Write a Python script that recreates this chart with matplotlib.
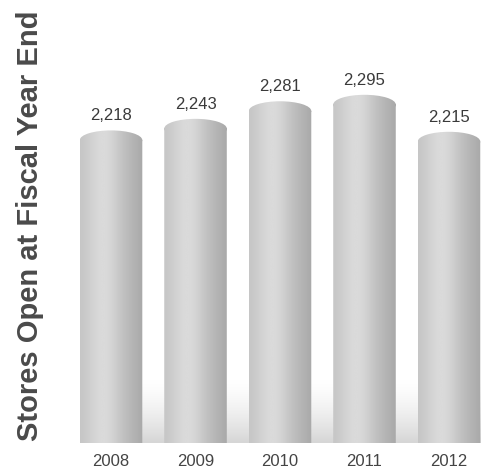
import matplotlib.pyplot as plt
import numpy as np
from matplotlib.patches import Ellipse, Rectangle
from matplotlib.path import Path
from matplotlib.patches import PathPatch

years = ['2008', '2009', '2010', '2011', '2012']
stores = [2218, 2243, 2281, 2295, 2215]
value_labels = ['2,218', '2,243', '2,281', '2,295', '2,215']

plt.rcParams['font.family'] = ['Liberation Sans', 'DejaVu Sans']

fig = plt.figure(figsize=(4.92, 4.71), dpi=100)
ax = fig.add_axes([60 / 492, 1 - 443 / 471, 432 / 492, 443 / 471])

y0 = 1542
bar_w = 0.74
dome = 21  # half height of the rounded cap, in store units

# horizontal shading for the cylinder look
u = np.linspace(0, 1, 200)
shade = 0.76 + 0.10 * np.exp(-((u - 0.38) / 0.28) ** 2) - 0.10 * u ** 3
grad = np.tile(shade, (2, 1))

# light floor band behind the bars near the baseline
floor = np.linspace(1, 0, 100)[:, None] * np.ones((1, 2))
floor_rgba = np.zeros((100, 2, 4))
floor_rgba[..., :3] = 0.82
floor_rgba[..., 3] = floor ** 1.5 * 0.9
ax.imshow(floor_rgba, extent=(-bar_w / 2, 4 + bar_w / 2, y0, y0 + 140),
          aspect='auto', origin='lower', zorder=1)

for i, v in enumerate(stores):
    left = i - bar_w / 2
    top = v - dome
    rect = Rectangle((left, y0), bar_w, top - y0)
    cap = Ellipse((i, top), bar_w, 2 * dome)
    rp, cp = rect.get_path(), cap.get_path()
    rcodes = rp.codes if rp.codes is not None else \
        [Path.MOVETO] + [Path.LINETO] * (len(rp.vertices) - 2) + [Path.CLOSEPOLY]
    verts = np.vstack([rect.get_patch_transform().transform(rp.vertices),
                       cap.get_patch_transform().transform(cp.vertices)])
    codes = np.concatenate([rcodes, cp.codes])
    clip = PathPatch(Path(verts, codes), facecolor='none', edgecolor='none',
                     transform=ax.transData)
    ax.add_patch(clip)
    im = ax.imshow(grad, extent=(left, left + bar_w, y0, v), aspect='auto',
                   cmap='gray', vmin=0, vmax=1, zorder=2)
    im.set_clip_path(clip)

    ax.annotate(value_labels[i], (i, v), xytext=(0, 5), textcoords='offset points',
                ha='center', va='bottom', fontsize=12, color='#3a3a3a')

ax.set_xlim(-0.604, 4.509)
ax.set_ylim(y0, 2500)
ax.set_xticks(range(len(years)))
ax.set_xticklabels(years, fontsize=12, color='#444444')
ax.tick_params(axis='x', length=0, pad=8)
ax.set_yticks([])
for s in ax.spines.values():
    s.set_visible(False)

fig.text(30 / 492, 1 - 226 / 471, 'Stores Open at Fiscal Year End', rotation=90,
         ha='center', va='center', fontsize=21, fontweight='bold', color='#4a4a4a')

fig.savefig('out.png', dpi=100)
